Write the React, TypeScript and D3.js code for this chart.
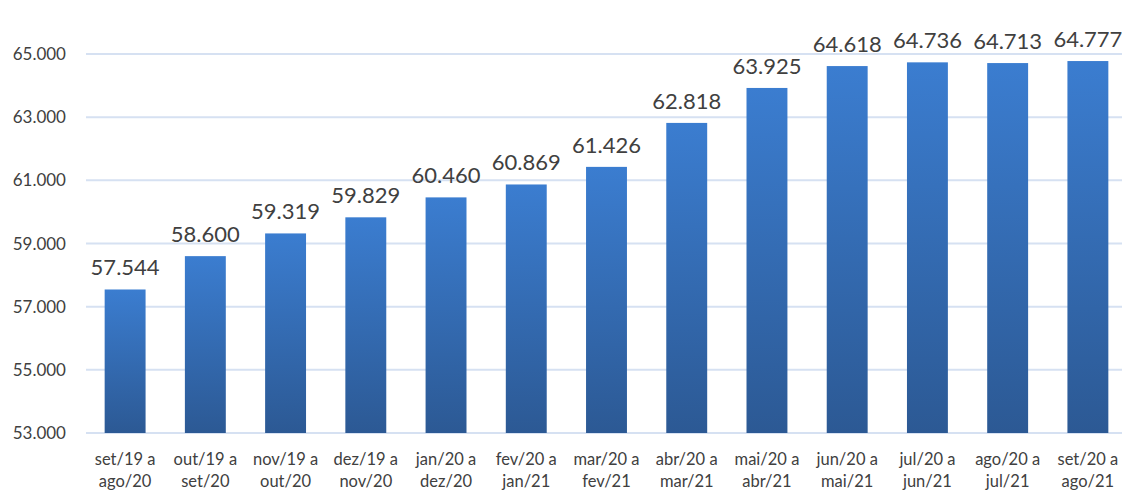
import { useEffect, useRef } from "react";
import * as d3 from "d3";

const categories = [
  ["set/19 a", "ago/20"],
  ["out/19 a", "set/20"],
  ["nov/19 a", "out/20"],
  ["dez/19 a", "nov/20"],
  ["jan/20 a", "dez/20"],
  ["fev/20 a", "jan/21"],
  ["mar/20 a", "fev/21"],
  ["abr/20 a", "mar/21"],
  ["mai/20 a", "abr/21"],
  ["jun/20 a", "mai/21"],
  ["jul/20 a", "jun/21"],
  ["ago/20 a", "jul/21"],
  ["set/20 a", "ago/21"],
];
const values = [57544, 58600, 59319, 59829, 60460, 60869, 61426, 62818, 63925, 64618, 64736, 64713, 64777];
const yTicks = [53000, 55000, 57000, 59000, 61000, 63000, 65000];

const fmt = (v: number) => d3.format(",")(v).replace(/,/g, ".");

export default function App() {
  const svgRef = useRef<SVGSVGElement | null>(null);

  useEffect(() => {
    document.body.style.margin = "0";
    if (!svgRef.current) return;
    const width = 1122;
    const height = 495;
    const font = "Lato, 'Open Sans', sans-serif";

    const svg = d3.select(svgRef.current);
    svg.selectAll("*").remove();
    svg.attr("width", width).attr("height", height);

    const defs = svg.append("defs");
    const grad = defs.append("linearGradient").attr("id", "barGrad").attr("x1", 0).attr("y1", 0).attr("x2", 0).attr("y2", 1);
    grad.append("stop").attr("offset", "0%").attr("stop-color", "#3b7dd0");
    grad.append("stop").attr("offset", "100%").attr("stop-color", "#2c5994");

    const x = d3.scaleBand<number>().domain(d3.range(values.length)).range([85, 1128]).paddingInner(0.49).paddingOuter(0.245);
    const y = d3.scaleLinear().domain([53000, 65000]).range([433, 54]);

    // grid
    svg.append("g").selectAll("line").data(yTicks).join("line")
      .attr("x1", 86).attr("x2", width)
      .attr("y1", d => y(d)).attr("y2", d => y(d))
      .attr("stroke", "#d6e1f2").attr("stroke-width", 2);

    svg.append("g").selectAll("text").data(yTicks).join("text")
      .attr("x", 66).attr("y", d => y(d) + 6)
      .attr("text-anchor", "end")
      .attr("font-family", font).attr("font-size", 17).attr("fill", "#404040")
      .text(d => fmt(d));

    // bars
    svg.append("g").selectAll("rect").data(values).join("rect")
      .attr("x", (_, i) => x(i)!)
      .attr("width", x.bandwidth())
      .attr("y", d => y(d))
      .attr("height", d => y(53000) - y(d))
      .attr("fill", "url(#barGrad)");

    svg.append("g").selectAll("text").data(values).join("text")
      .attr("x", (_, i) => x(i)! + x.bandwidth() / 2)
      .attr("y", d => y(d) - 14)
      .attr("text-anchor", "middle")
      .attr("font-family", font).attr("font-size", 22).attr("fill", "#404040")
      .text(d => fmt(d));

    // category labels
    const cat = svg.append("g").selectAll("text").data(categories).join("text")
      .attr("text-anchor", "middle")
      .attr("font-family", font).attr("font-size", 16.5).attr("fill", "#404040");
    cat.each(function (d, i) {
      const t = d3.select(this);
      const cx = x(i)! + x.bandwidth() / 2;
      t.append("tspan").attr("x", cx).attr("y", 465).text(d[0]);
      t.append("tspan").attr("x", cx).attr("y", 487).text(d[1]);
    });
  }, []);

  return <svg ref={svgRef} style={{ display: "block" }} />;
}
